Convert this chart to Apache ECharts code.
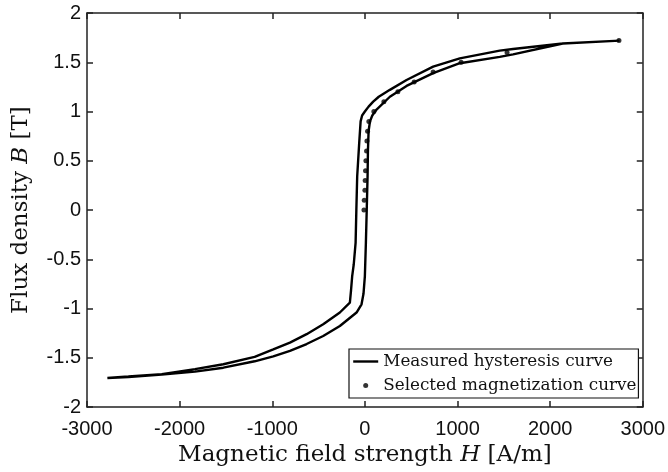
<!DOCTYPE html>
<html>
<head>
<meta charset="utf-8">
<script src="https://cdn.jsdelivr.net/npm/echarts@6/dist/echarts.min.js"></script>
<style>
  html, body { margin: 0; padding: 0; background: #fff; }
  #main { width: 668px; height: 472px; }
</style>
</head>
<body>
<div id="main"></div>
<script>
// descending branch of the loop (from +Hmax to -Hmax)
var descH = [2750, 2136, 1600, 1456, 1025, 737, 450, 270, 150, 90, 40, 0, -30, -46, -60, -83, -92, -100, -120, -137, -150, -162,
  -270, -450, -629, -809, -989, -1190, -1528, -1834, -2193, -2553, -2780];
var descB = [1.72, 1.69, 1.635, 1.618, 1.54, 1.456, 1.32, 1.22, 1.15, 1.10, 1.05, 1.0, 0.96, 0.90, 0.70, 0.34, 0.0, -0.33, -0.55, -0.67, -0.82, -0.94,
  -1.04, -1.16, -1.26, -1.345, -1.415, -1.49, -1.565, -1.615, -1.665, -1.69, -1.705];
// ascending branch (from -Hmax to +Hmax)
var ascH = [-2780, -2553, -2193, -1834, -1528, -1190, -989, -809, -629, -450, -270, -90, -36, -15, 0, 11, 20, 29, 33, 40, 55, 80,
  126, 270, 450, 737, 1025, 1456, 1600, 2136, 2750];
var ascB = [-1.712, -1.695, -1.67, -1.64, -1.60, -1.535, -1.485, -1.43, -1.36, -1.278, -1.177, -1.04, -0.957, -0.85, -0.67, -0.33, 0, 0.34, 0.6, 0.8, 0.9, 0.96,
  1.02, 1.15, 1.26, 1.39, 1.49, 1.555, 1.58, 1.69, 1.72];
// selected magnetization curve points
var magH = [-10, -7, 0, 3, 7, 11, 18, 22, 29, 43, 97, 205, 356, 532, 737, 1039, 1535, 2743];
var magB = [0, 0.1, 0.2, 0.3, 0.4, 0.5, 0.6, 0.7, 0.8, 0.9, 1.0, 1.1, 1.2, 1.3, 1.4, 1.5, 1.6, 1.72];

var loopData = [];
for (var i = 0; i < descH.length; i++) loopData.push([descH[i], descB[i]]);
for (var j = 0; j < ascH.length; j++) loopData.push([ascH[j], ascB[j]]);
var magData = [];
for (var k = 0; k < magH.length; k++) magData.push([magH[k], magB[k]]);

var axisColor = '#222';
var sans = '"Liberation Sans", Arial, sans-serif';
var serif = '"DejaVu Serif", "Liberation Serif", serif';

function plainNum(v) {
  return String(v);
}

function boxAxis(pos, type) {
  return {
    type: 'value',
    position: pos,
    min: type == 'x' ? -3000 : -2,
    max: type == 'x' ? 3000 : 2,
    interval: type == 'x' ? 1000 : 0.5,
    axisLine: { show: true, onZero: false, lineStyle: { color: axisColor, width: 1.5 } },
    axisTick: { show: true, inside: true, length: 6, lineStyle: { color: axisColor, width: 1.5 } },
    axisLabel: { show: false },
    splitLine: { show: false }
  };
}

var option = {
  animation: false,
  backgroundColor: '#fff',
  grid: { left: 87, right: 25, top: 13, bottom: 64, containLabel: false },
  xAxis: [{
    type: 'value',
    position: 'bottom',
    min: -3000, max: 3000, interval: 1000,
    name: '{t|Magnetic field strength }{i|H}{t| [A/m]}',
    nameLocation: 'middle',
    nameGap: 33,
    nameTextStyle: {
      rich: {
        t: { fontFamily: serif, fontSize: 23, color: '#111' },
        i: { fontFamily: serif, fontSize: 23, fontStyle: 'italic', color: '#111' }
      }
    },
    axisLine: { show: true, onZero: false, lineStyle: { color: axisColor, width: 1.5 } },
    axisTick: { show: true, inside: true, length: 6, lineStyle: { color: axisColor, width: 1.5 } },
    axisLabel: { margin: 12, color: '#111', fontFamily: sans, fontSize: 20, formatter: plainNum },
    splitLine: { show: false }
  }, boxAxis('top', 'x')],
  yAxis: [{
    type: 'value',
    position: 'left',
    min: -2, max: 2, interval: 0.5,
    name: '{t|Flux density }{i|B}{t| [T]}',
    nameLocation: 'middle',
    nameGap: 54,
    nameTextStyle: {
      rich: {
        t: { fontFamily: serif, fontSize: 23, color: '#111' },
        i: { fontFamily: serif, fontSize: 23, fontStyle: 'italic', color: '#111' }
      }
    },
    axisLine: { show: true, onZero: false, lineStyle: { color: axisColor, width: 1.5 } },
    axisTick: { show: true, inside: true, length: 6, lineStyle: { color: axisColor, width: 1.5 } },
    axisLabel: { margin: 6, color: '#111', fontFamily: sans, fontSize: 20, formatter: plainNum },
    splitLine: { show: false }
  }, boxAxis('right', 'y')],
  legend: {
    orient: 'vertical',
    left: 349,
    top: 349,
    padding: [4, 2, 4, 3],
    itemGap: 7,
    itemWidth: 25,
    itemHeight: 5,
    backgroundColor: '#fff',
    borderColor: '#111',
    borderWidth: 1.2,
    borderRadius: 0,
    selectedMode: false,
    textStyle: { fontFamily: serif, fontSize: 16.8, color: '#111' },
    data: [
      {
        name: 'Measured hysteresis curve',
        itemStyle: { color: 'rgba(0,0,0,0)', borderColor: 'rgba(0,0,0,0)', borderWidth: 0 },
        lineStyle: { color: '#000', width: 2.4 }
      },
      { name: 'Selected magnetization curve', icon: 'circle' }
    ]
  },
  series: [{
    name: 'Measured hysteresis curve',
    type: 'line',
    xAxisIndex: 0,
    yAxisIndex: 0,
    data: loopData,
    symbol: 'none',
    showSymbol: false,
    smooth: false,
    lineStyle: { color: '#000', width: 2.4 },
    itemStyle: { color: '#000' }
  }, {
    name: 'Selected magnetization curve',
    type: 'scatter',
    xAxisIndex: 0,
    yAxisIndex: 0,
    data: magData,
    symbol: 'circle',
    symbolSize: 5,
    itemStyle: { color: '#000' },
    z: 3
  }]
};

var chart = echarts.init(document.getElementById('main'));
chart.setOption(option);
</script>
</body>
</html>
